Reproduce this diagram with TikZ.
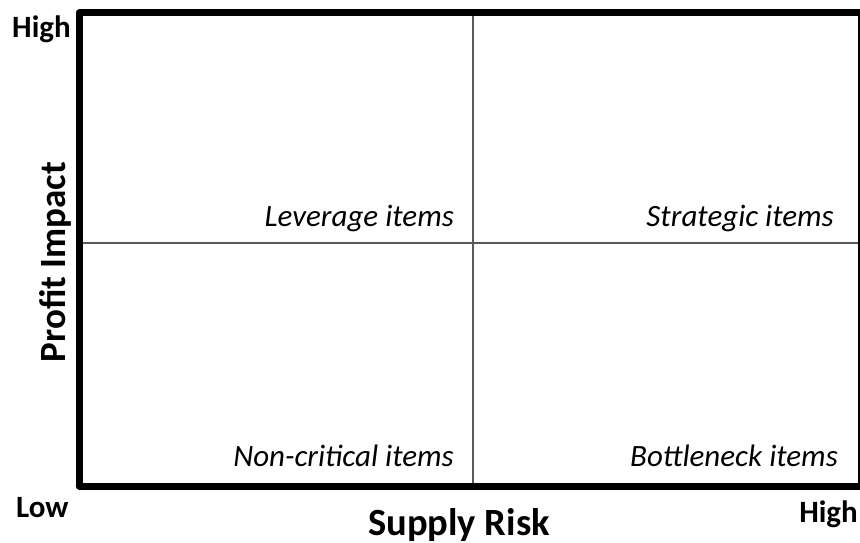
\documentclass[tikz,border=0pt]{standalone}
\usepackage{fontspec}
\setmainfont{Carlito}
\usetikzlibrary{positioning}

\begin{document}
\begin{tikzpicture}[x=1pt,y=-1pt,
  frame/.style={line width=7pt,line join=round,black},
  divider/.style={line width=1.2pt,black!65},
  axislabel/.style={font=\bfseries\fontsize{38.5}{40}\selectfont,inner sep=0pt},
  endlabel/.style={font=\bfseries\fontsize{31}{32}\selectfont,inner sep=0pt},
  quadlabel/.style={font=\itshape\fontsize{31}{32}\selectfont,inner sep=0pt,anchor=base east}]
\useasboundingbox[fill=white] (0,0) rectangle (860,543);
    \coordinate (TL) at (79,13);
    \coordinate (TR) at (861,13);
    \coordinate (BL) at (79,486);
    \coordinate (BR) at (861,486);
    \coordinate (Mtop) at (473,13);
    \coordinate (Mbot) at (473,486);
    \coordinate (Mleft) at (79,243);
    \coordinate (Mright) at (861,243);
    % quadrant lines
    \draw[divider] (Mtop) -- (Mbot);
    \draw[divider] (Mleft) -- (Mright);
    % frame
    \draw[frame] (BR) -- (BL) -- (TL) -- (TR) -- cycle;
    % quadrants
    \node[quadlabel] (lev) at (454,226) {Leverage items};
    \node[quadlabel] (str) at (834,226) {Strategic items};
    \node[quadlabel] (non) at (454,466) {Non-critical items};
    \node[quadlabel] (bot) at (838,466) {Bottleneck items};
    % axes
    \node[endlabel,anchor=base west] (yhigh) at (12,38) {High};
    \node[endlabel,anchor=base west] (xlow) at (16,517) {Low};
    \node[endlabel,anchor=base east] (xhigh) at (858,522) {High};
    \node[axislabel,anchor=base] (xaxis) at (459,535) {Supply Risk};
    \node[axislabel,anchor=base,rotate=90,font=\bfseries\fontsize{37}{40}\selectfont] (yaxis) at (65,262) {Profit Impact};
\end{tikzpicture}
\end{document}
